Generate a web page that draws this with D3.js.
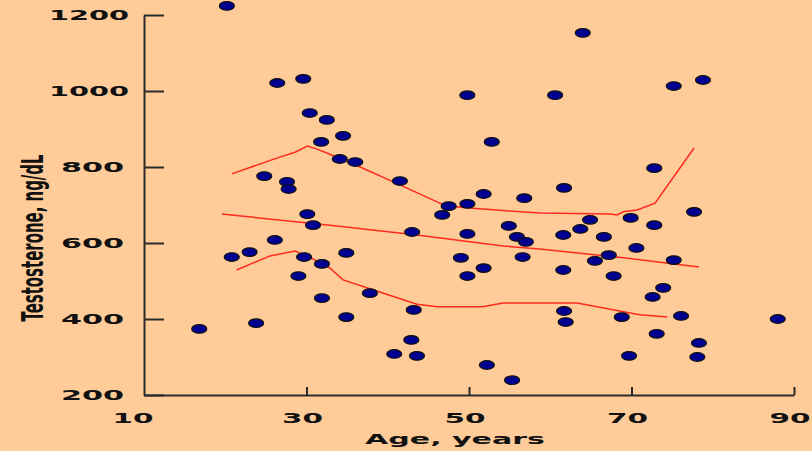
<!DOCTYPE html>
<html>
<head>
<meta charset="utf-8">
<script src="https://cdn.jsdelivr.net/npm/d3@7"></script>
<style>
  html, body { margin: 0; padding: 0; background: #FFCC99; }
  svg { display: block; }
</style>
</head>
<body>
<script>
// ---- data ----
const ages = [20.2,16.8,20.8,23.0,23.8,24.8,26.4,29.6,30.4,32.5,34.5,31.8,34.1,36.0,41.5,27.6,27.8,30.1,30.8,
  49.8,52.8,51.8,56.8,47.5,49.8,46.7,54.9,26.1,43.0,49.8,55.9,57.0,56.6,49.0,51.8,49.8,29.7,31.9,34.9,29.0,
  31.9,37.8,34.9,43.2,42.9,40.8,43.6,52.2,55.3,64.0,60.6,75.2,78.8,72.8,61.7,77.7,64.9,69.9,72.8,63.7,61.6,
  66.6,70.6,67.2,65.5,75.2,61.6,67.8,73.9,72.6,61.7,61.9,68.8,76.1,88.0,73.1,78.3,69.7,78.1];
const testosterone = [1224,374,563,576,389,776,1021,1032,942,924,882,866,821,813,763,761,742,676,647,
  989,866,729,718,697,703,674,645,608,629,624,616,603,563,561,534,513,563,545,574,513,
  455,468,405,424,345,308,303,279,239,1153,989,1013,1029,797,745,682,661,666,647,637,621,
  616,587,568,553,555,529,513,482,458,421,392,405,408,400,361,337,303,300];

const upperAge = [20.8,26.7,28.6,30.1,31.3,32.5,36.6,41.5,46.4,47.7,50.1,55.0,58.7,67.4,68.2,69.0,70.7,72.9,77.7];
const upperVal = [782,826,839,855,847,837,800,753,705,697,692,684,679,676,674,682,687,705,850];
const midAge = [19.6,32.9,43.6,54.2,58.7,69.0,78.3];
const midVal = [676,647,621,592,584,561,537];
const lowerAge = [21.4,25.5,28.6,30.8,32.9,34.5,39.0,43.6,46.1,51.7,54.2,58.7,63.3,71.0,74.4];
const lowerVal = [529,566,579,558,534,503,471,439,432,432,442,442,442,411,405];

const xTicks = [10,30,50,70,90];
const yTicks = [200,400,600,800,1000,1200];
const xTitle = "Age, years";
const yTitle = "Testosterone, ng/dL";

// ---- chart ----
const W = 812, H = 451;
const svg = d3.select("body").append("svg").attr("width", W).attr("height", H);
svg.append("rect").attr("width", W).attr("height", H).attr("fill", "#FFCC99");

const x = d3.scaleLinear().domain([10, 90]).range([144, 794]);
const y = d3.scaleLinear().domain([200, 1200]).range([395, 15]);

const font = "'DejaVu Sans', Verdana, sans-serif";

// y axis
const yAx = svg.append("g").attr("transform", "translate(144,0)")
  .call(d3.axisRight(y).tickValues(yTicks).tickSize(20).tickSizeOuter(0).tickFormat(""));
yAx.selectAll("path,line").attr("stroke", "#2a2a2a").attr("stroke-width", 2);

// x axis
const xAx = svg.append("g").attr("transform", "translate(0,395)")
  .call(d3.axisTop(x).tickValues(xTicks.filter(d => d !== 10)).tickSize(8).tickSizeOuter(0).tickFormat(""));
xAx.selectAll("path,line").attr("stroke", "#2a2a2a").attr("stroke-width", 2);

// y tick labels
svg.append("g").selectAll("text").data(yTicks).join("text")
  .attr("x", d => String(d).length === 4 ? 129 : 124).attr("y", d => y(d) + 5)
  .attr("text-anchor", "end")
  .attr("font-family", font).attr("font-weight", "bold").attr("font-size", 14)
  .attr("textLength", d => String(d).length === 4 ? 80 : 63)
  .attr("lengthAdjust", "spacingAndGlyphs")
  .attr("fill", "#111")
  .text(d => d);

// x tick labels
svg.append("g").selectAll("text").data(xTicks).join("text")
  .attr("x", d => x(d) - (d === 10 ? 11 : 4)).attr("y", 423)
  .attr("text-anchor", "middle")
  .attr("font-family", font).attr("font-weight", "bold").attr("font-size", 14)
  .attr("textLength", 41)
  .attr("lengthAdjust", "spacingAndGlyphs")
  .attr("fill", "#111")
  .text(d => d);

// axis titles
svg.append("text")
  .attr("x", 455).attr("y", 444).attr("text-anchor", "middle")
  .attr("font-family", font).attr("font-weight", "bold").attr("font-size", 14)
  .attr("textLength", 180).attr("lengthAdjust", "spacingAndGlyphs")
  .attr("fill", "#111")
  .text(xTitle);

svg.append("text")
  .attr("transform", "translate(43,238) rotate(-90) scale(1,2.1)")
  .attr("text-anchor", "middle")
  .attr("font-family", font).attr("font-weight", "bold").attr("font-size", 14)
  .attr("textLength", 167).attr("lengthAdjust", "spacingAndGlyphs")
  .attr("fill", "#111")
  .text(yTitle);

// curves
const line = d3.line().x(d => x(d[0])).y(d => y(d[1]));
[[upperAge, upperVal], [midAge, midVal], [lowerAge, lowerVal]].forEach(([a, v]) => {
  svg.append("path")
    .datum(a.map((d, i) => [d, v[i]]))
    .attr("d", line)
    .attr("fill", "none")
    .attr("stroke", "#FF2A1E")
    .attr("stroke-width", 1.5);
});

// points
svg.append("g").selectAll("ellipse").data(ages.map((d, i) => [d, testosterone[i]])).join("ellipse")
  .attr("cx", d => x(d[0])).attr("cy", d => y(d[1]))
  .attr("rx", 7.5).attr("ry", 4.3)
  .attr("fill", "#000090")
  .attr("stroke", "#111").attr("stroke-width", 1.2);
</script>
</body>
</html>
